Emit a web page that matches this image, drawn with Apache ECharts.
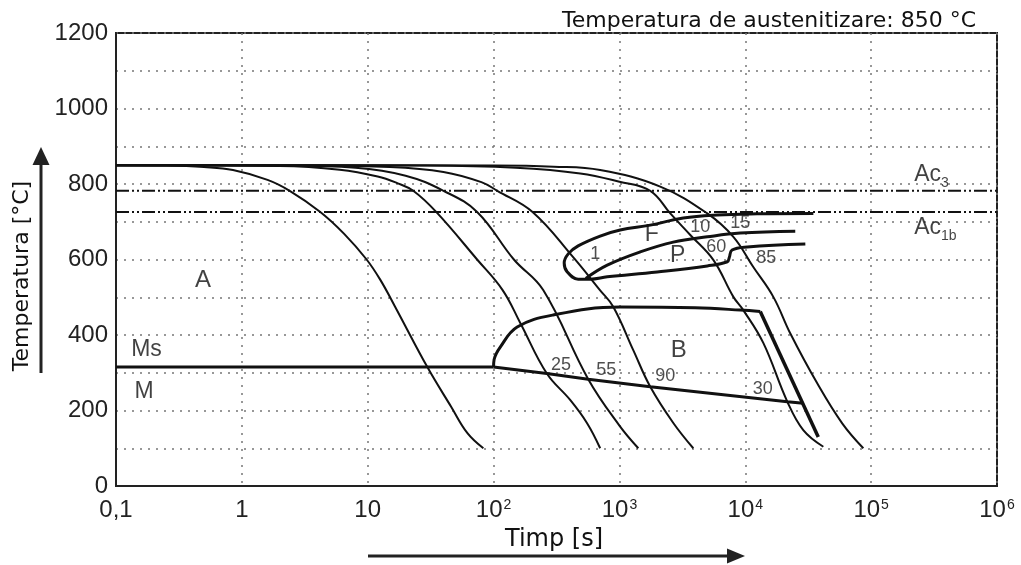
<!DOCTYPE html>
<html>
<head>
<meta charset="utf-8">
<script src="https://cdn.jsdelivr.net/npm/echarts@6/dist/echarts.min.js"></script>
<style>
html,body{margin:0;padding:0;background:#fff;}
#chart{width:1021px;height:565px;}
</style>
</head>
<body>
<div id="chart"></div>
<script>
// ---- DATA ----
const titleText = 'Temperatura de austenitizare: 850 °C';
const xAxisName = 'Timp [s]';
const yAxisName = 'Temperatura [°C]';
const xMin = 0.1, xMax = 1e6;
const yMin = 0, yMax = 1200;

// cooling curves [time s, temperature °C]
const curve1 = [[0.1,850],[0.25,849],[0.5,845],[0.85,837],[1.6,811],[2.4,782],[4.2,726],[6.5,668],[9.8,600],[12.6,546],[16.5,475],[30,313],[46,210],[62,140],[83,100]];
const curve2 = [[0.1,850],[2,848],[6,838],[12,820],[17,803],[23,782],[35,726],[74,600],[118,519],[163,432],[265,298],[406,228],[552,167],[703,100]];
const curve3 = [[0.1,850],[2,849],[8,843],[20,822],[40,782],[74,726],[145,600],[248,519],[565,283],[1000,160],[1413,100]];
const curve4 = [[0.1,850],[3,849],[15,845],[40,832],[80,805],[107,782],[204,726],[427,607],[700,519],[893,475],[1288,360],[1758,263],[2680,167],[3864,100]];
const curve5 = [[0.1,850],[30,849],[150,843],[488,828],[1000,806],[1758,782],[2535,722],[3656,665],[5570,599],[8040,501],[9640,466],[13900,379],[21600,223],[28900,148],[41700,104]];
const curve6 = [[0.1,850],[100,849],[300,846],[703,837],[2110,793],[4990,722],[8040,660],[11580,580],[16700,501],[22800,404],[37300,272],[58900,166],[86700,100]];

// critical temperatures
const ac3 = 782, ac1b = 726, msTemp = 315;

// ferrite/pearlite region (ferrite start around the nose, continuing as pearlite finish)
const fpOutline = [[30000,641],[10370,633],[7850,625],[7470,606],[7200,594],[4990,583],[1995,567],[800,554],[586,548],[470,548],[385,567],[364,591],[392,615],[470,636],[703,662],[1014,678],[1758,691],[3214,710],[5984,718],[12440,721],[34750,722]];
const pearliteStart = [[540,550],[800,585],[1462,620],[2677,646],[4990,660],[9120,670],[24950,675]];

// bainite region
const msLine = [[0.1,msTemp],[100,msTemp]];
const bainiteStart = [[100,msTemp],[101,335],[113,368],[154,421],[298,453],[1014,474],[4000,472],[9120,466],[13150,462]];
const bainiteEdge = [[13150,462],[38000,130]];
const bainiteFinish = [[100,msTemp],[265,298],[565,283],[1758,263],[21600,223],[28900,219]];

// annotations [text, time, temperature, fontSize]
const regionLabels = [['A',0.492,546,24],['Ms',0.1746,360,23],['M',0.167,249,23],['B',2958,358,24],['F',1807,665,23],['P',2904,611,23]];
const percentLabels = [['1',643,614],['10',4385,685],['15',9120,697],['60',5890,632],['85',14690,605],['25',344,320],['55',785,306],['90',2312,290],['30',13780,256]];
const acLabels = [['Ac','3',220000,826],['Ac','1b',220000,687]];

// ---- CHART ----
const chart = echarts.init(document.getElementById('chart'), null, {renderer:'canvas'});
const black = '#111';
function curveSeries(data, width, smooth){
  return {type:'line', data:data, symbol:'none', smooth:smooth,
    lineStyle:{color:black, width:width}, silent:true, z:3, animation:false};
}
const dashDot = [13,3,2,3,2,3];
const series = [
  curveSeries(curve1,2,0.4), curveSeries(curve2,2,0.4), curveSeries(curve3,2,0.4),
  curveSeries(curve4,2,0.4), curveSeries(curve5,2,0.4), curveSeries(curve6,2,0.4),
  {type:'line', data:[[xMin,ac3],[xMax,ac3]], symbol:'none', lineStyle:{color:black,width:2,type:dashDot}, z:2, silent:true},
  {type:'line', data:[[xMin,ac1b],[xMax,ac1b]], symbol:'none', lineStyle:{color:black,width:2,type:dashDot}, z:2, silent:true},
  {type:'line', data:fpOutline, symbol:'none', smooth:0.4, lineStyle:{color:black,width:3}, z:4, silent:true},
  {type:'line', data:pearliteStart, symbol:'none', smooth:0.4, lineStyle:{color:black,width:3}, z:4, silent:true},
  {type:'line', data:msLine, symbol:'none', lineStyle:{color:black,width:3}, z:4, silent:true},
  {type:'line', data:bainiteStart, symbol:'none', smooth:0.4, lineStyle:{color:black,width:3}, z:4, silent:true},
  {type:'line', data:bainiteEdge, symbol:'none', lineStyle:{color:black,width:3.5}, z:4, silent:true},
  {type:'line', data:bainiteFinish, symbol:'none', lineStyle:{color:black,width:3}, z:4, silent:true},
  {type:'scatter', symbolSize:0, silent:true, z:6,
    data: regionLabels.map(l => ({value:[l[1],l[2]], label:{show:true, position:'inside', formatter:l[0], fontSize:l[3], fontFamily:'Liberation Sans', color:'#111'}}))},
  {type:'scatter', symbolSize:0, silent:true, z:6,
    data: percentLabels.map(l => ({value:[l[1],l[2]], label:{show:true, position:'inside', formatter:l[0], fontSize:18, fontFamily:'Liberation Sans', color:'#222'}}))},
  {type:'scatter', symbolSize:0, silent:true, z:6,
    data: acLabels.map(l => ({value:[l[2],l[3]], label:{show:true, position:'inside', align:'left', formatter:'{a|'+l[0]+'}{s|'+l[1]+'}',
      rich:{a:{fontSize:23, fontFamily:'Liberation Sans', color:'#111', verticalAlign:'bottom', lineHeight:24}, s:{fontSize:14, fontFamily:'Liberation Sans', color:'#111', verticalAlign:'bottom', lineHeight:16, padding:[0,0,-4,0]}}}}))}
];

const option = {
  animation:false,
  backgroundColor:'#fff',
  title:{text:titleText, right:40, top:5, textStyle:{fontFamily:'DejaVu Sans', fontSize:22, fontWeight:'normal', color:'#111'}},
  grid:{left:116, right:24, top:33, bottom:79, show:true, borderColor:'#222', borderWidth:2, backgroundColor:'transparent'},
  xAxis:{type:'log', logBase:10, min:xMin, max:xMax, splitNumber:7,
    axisLine:{show:true, lineStyle:{color:'#222', width:2}}, axisTick:{show:false},
    axisLabel:{margin:10, color:'#222', fontFamily:'Liberation Sans', fontSize:24, showMaxLabel:true, showMinLabel:true,
      formatter:function(v){ const e=Math.round(Math.log10(v)); if(e===-1) return '{b|0,1}'; if(e===0) return '{b|1}'; if(e===1) return '{b|10}'; return '{b|10}{s|'+e+'}'; },
      rich:{b:{fontSize:24, fontFamily:'Liberation Sans', color:'#222', verticalAlign:'bottom', lineHeight:26}, s:{fontSize:14, fontFamily:'Liberation Sans', color:'#222', verticalAlign:'bottom', lineHeight:26, padding:[0,0,10,1]}}},
    splitLine:{show:true, lineStyle:{color:'#777', width:1.5, type:[2,6]}}},
  yAxis:{type:'value', min:yMin, max:yMax, interval:100,
    axisLine:{show:true, lineStyle:{color:'#222', width:2}}, axisTick:{show:false},
    axisLabel:{margin:8, color:'#222', fontFamily:'Liberation Sans', fontSize:24, formatter:function(v){ return v%200===0 ? String(v) : ''; }},
    splitLine:{show:true, lineStyle:{color:'#777', width:1.5, type:[2,6]}}},
  graphic:[
    {type:'text', left:505, top:528, style:{text:xAxisName, font:'24px "DejaVu Sans"', fill:'#111'}},
    {type:'line', shape:{x1:368, y1:556, x2:730, y2:556}, style:{stroke:'#222', lineWidth:3}},
    {type:'polygon', shape:{points:[[745,556],[727,548.5],[727,563.5]]}, style:{fill:'#222'}},
    {type:'text', x:22, y:276, rotation:Math.PI/2, style:{text:yAxisName, font:'22px "DejaVu Sans"', fill:'#111', align:'center', verticalAlign:'middle'}},
    {type:'line', shape:{x1:41, y1:373, x2:41, y2:162}, style:{stroke:'#222', lineWidth:3}},
    {type:'polygon', shape:{points:[[41,147],[32.5,165],[49.5,165]]}, style:{fill:'#222'}}
  ],
  series: series
};
chart.setOption(option);
</script>
</body>
</html>
